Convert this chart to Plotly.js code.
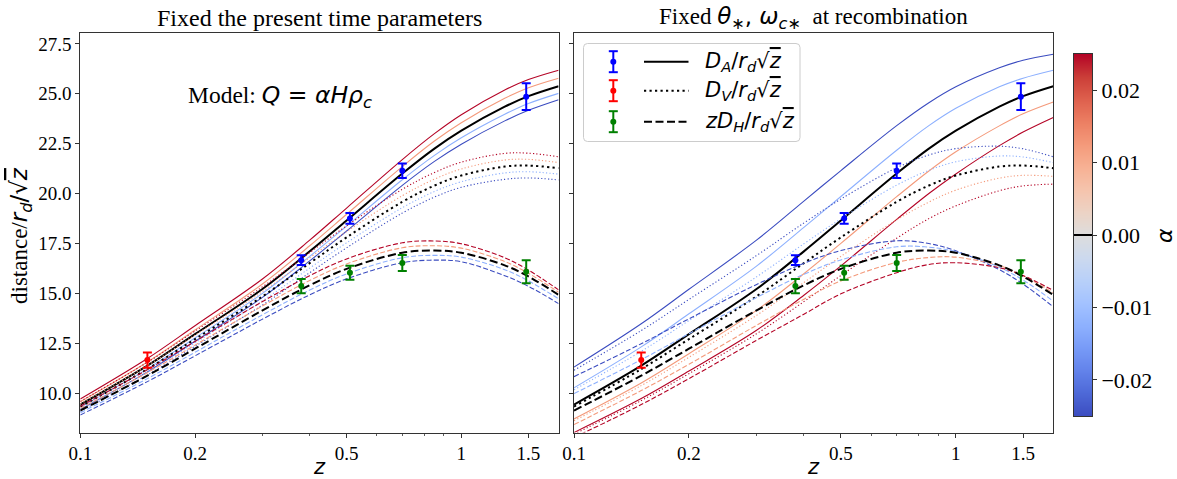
<!DOCTYPE html>
<html>
<head>
<meta charset="utf-8">
<script src="https://cdn.plot.ly/plotly-3.0.1.min.js"></script>
<style>html,body{margin:0;padding:0;background:#fff;}#chart{width:1177px;height:479px;}</style>
</head>
<body>
<div id="chart"></div>
<script>
// ---------------- data ----------------
const z = [0.1, 0.15, 0.2, 0.3, 0.4, 0.5, 0.7, 0.85, 1.0, 1.3, 1.5, 1.8];
const alphas = [-0.025, -0.0125, 0, 0.0125, 0.025];
const xTickVals = [0.1, 0.2, 0.5, 1, 1.5];
const xTickText = ['0.1', '0.2', '0.5', '1', '1.5'];
const xMinorVals = [0.3, 0.4, 0.6, 0.7, 0.8, 0.9];
const yTickVals = [10, 12.5, 15, 17.5, 20, 22.5, 25, 27.5];
const cbTickVals = [-0.02, -0.01, 0, 0.01, 0.02];

// Left panel: fixed present-time parameters (rows follow alphas order)
const presDA = [
  [9.18, 11.06, 12.59, 14.78, 16.62, 18.12, 20.41, 21.61, 22.47, 23.64, 24.17, 24.70],
  [9.29, 11.21, 12.76, 14.98, 16.85, 18.37, 20.69, 21.91, 22.79, 23.97, 24.51, 25.02],
  [9.42, 11.37, 12.95, 15.20, 17.10, 18.65, 21.00, 22.25, 23.15, 24.35, 24.88, 25.38],
  [9.56, 11.55, 13.16, 15.45, 17.38, 18.96, 21.35, 22.63, 23.55, 24.77, 25.30, 25.78],
  [9.70, 11.73, 13.37, 15.70, 17.66, 19.27, 21.70, 23.00, 23.95, 25.19, 25.71, 26.18]
];
const presDV = [
  [9.09, 10.90, 12.34, 14.40, 16.03, 17.28, 19.02, 19.82, 20.31, 20.71, 20.78, 20.68],
  [9.20, 11.04, 12.51, 14.61, 16.26, 17.53, 19.29, 20.10, 20.59, 21.03, 21.09, 20.97],
  [9.32, 11.20, 12.70, 14.83, 16.51, 17.80, 19.58, 20.40, 20.90, 21.35, 21.40, 21.27],
  [9.45, 11.37, 12.90, 15.07, 16.78, 18.09, 19.89, 20.72, 21.23, 21.68, 21.71, 21.55],
  [9.58, 11.54, 13.10, 15.31, 17.04, 18.38, 20.21, 21.05, 21.57, 22.01, 22.02, 21.84]
];
const presDH = [
  [8.90, 10.57, 11.86, 13.69, 14.92, 15.72, 16.53, 16.66, 16.58, 15.88, 15.35, 14.48],
  [9.01, 10.72, 12.04, 13.91, 15.16, 15.97, 16.78, 16.90, 16.81, 16.18, 15.62, 14.72],
  [9.12, 10.87, 12.22, 14.13, 15.40, 16.22, 17.03, 17.14, 17.03, 16.40, 15.84, 14.92],
  [9.23, 11.02, 12.40, 14.35, 15.64, 16.47, 17.28, 17.38, 17.26, 16.59, 16.00, 15.05],
  [9.34, 11.17, 12.58, 14.57, 15.88, 16.72, 17.53, 17.62, 17.48, 16.78, 16.16, 15.17]
];

// Right panel: fixed theta_*, omega_c* at recombination
const recDA = [
  [11.30, 13.47, 15.20, 17.65, 19.62, 21.15, 23.40, 24.55, 25.35, 26.30, 26.68, 26.98],
  [10.26, 12.31, 13.97, 16.35, 18.30, 19.85, 22.17, 23.40, 24.27, 25.35, 25.78, 26.18],
  [9.42, 11.37, 12.95, 15.20, 17.10, 18.65, 21.00, 22.25, 23.15, 24.35, 24.88, 25.38],
  [8.70, 10.50, 11.97, 14.13, 15.98, 17.50, 19.84, 21.13, 22.09, 23.39, 24.00, 24.59],
  [8.02, 9.72, 11.10, 13.13, 14.90, 16.37, 18.70, 20.00, 20.98, 22.40, 23.08, 23.81]
];
const recDV = [
  [11.14, 13.13, 14.69, 16.88, 18.52, 19.72, 21.29, 21.93, 22.25, 22.37, 22.24, 21.84],
  [10.16, 12.09, 13.63, 15.81, 17.48, 18.73, 20.42, 21.16, 21.59, 21.88, 21.83, 21.55],
  [9.32, 11.20, 12.70, 14.83, 16.51, 17.80, 19.58, 20.40, 20.90, 21.35, 21.40, 21.27],
  [8.61, 10.37, 11.79, 13.88, 15.54, 16.85, 18.68, 19.57, 20.17, 20.77, 20.91, 20.86],
  [7.94, 9.62, 10.97, 12.96, 14.58, 15.89, 17.76, 18.74, 19.38, 20.14, 20.38, 20.47]
];
const recDH = [
  [10.82, 12.47, 13.72, 15.43, 16.50, 17.14, 17.63, 17.49, 17.13, 16.18, 15.46, 14.32],
  [9.97, 11.67, 12.97, 14.78, 15.95, 16.67, 17.33, 17.31, 17.08, 16.30, 15.66, 14.60],
  [9.12, 10.87, 12.22, 14.13, 15.40, 16.22, 17.03, 17.14, 17.03, 16.40, 15.84, 14.92],
  [8.42, 10.12, 11.44, 13.38, 14.70, 15.62, 16.55, 16.79, 16.81, 16.38, 15.88, 15.02],
  [7.77, 9.42, 10.72, 12.63, 13.95, 14.97, 16.03, 16.44, 16.53, 16.28, 15.89, 15.14]
];

// Measurements
const zDA = [0.38, 0.51, 0.70, 1.48];
const valDA = [16.66, 18.75, 21.14, 24.85];
const errDA = [0.25, 0.27, 0.36, 0.67];
const zDV = [0.15];
const valDV = [11.65];
const errDV = [0.38];
const zDH = [0.38, 0.51, 0.70, 1.48];
const valDH = [15.36, 16.03, 16.52, 16.08];
const errDH = [0.36, 0.35, 0.40, 0.58];

// ---------------- styles ----------------
const W = 1177, H = 479;
const fx = p => p / W;
const fy = p => 1 - p / H;
const SERIF = 'Liberation Serif, Times New Roman, serif';
const SANS = 'DejaVu Sans, sans-serif';
const lineColors = ['#3b4cc0', '#8db0fe', '#000000', '#f49a7b', '#b40426'];
const coolwarm = [[0,'#3b4cc0'],[0.0625,'#4d68d7'],[0.125,'#6282ea'],[0.1875,'#779af7'],[0.25,'#8db0fe'],[0.3125,'#a3c2ff'],[0.375,'#b8d0f9'],[0.4375,'#ccd9ee'],[0.5,'#dddddd'],[0.5625,'#ecd3c5'],[0.625,'#f5c4ad'],[0.6875,'#f7b194'],[0.75,'#f49a7b'],[0.8125,'#ec7f63'],[0.875,'#de604d'],[0.9375,'#cb3e38'],[1,'#b40426']];
const thinDash = {solid: 'solid', dot: '1.2px,2.2px', dash: '5px,2.2px'};
const thickDash = {solid: 'solid', dot: '2.2px,3.3px', dash: '8px,3.5px'};

const traces = [];
function addGroup(xa, ya, rows, kind) {
  const order = [0, 1, 3, 4, 2];
  order.forEach(i => {
    const black = (i === 2);
    traces.push({
      x: z, y: rows[i], xaxis: xa, yaxis: ya, type: 'scatter', mode: 'lines',
      line: {color: lineColors[i], width: black ? 2 : 1.1, dash: black ? thickDash[kind] : thinDash[kind], shape: 'spline', smoothing: 1},
      hoverinfo: 'skip', showlegend: false, name: 'alpha=' + alphas[i]
    });
  });
}
[['x','y',presDA,presDV,presDH],['x2','y2',recDA,recDV,recDH]].forEach(p => {
  addGroup(p[0], p[1], p[2], 'solid');
  addGroup(p[0], p[1], p[3], 'dot');
  addGroup(p[0], p[1], p[4], 'dash');
  [[zDA, valDA, errDA, '#0000ff'], [zDV, valDV, errDV, '#ff0000'], [zDH, valDH, errDH, '#008000']].forEach(d => {
    traces.push({
      x: d[0], y: d[1], xaxis: p[0], yaxis: p[1], type: 'scatter', mode: 'markers',
      marker: {color: d[3], size: 6},
      error_y: {type: 'data', array: d[2], visible: true, color: d[3], thickness: 2, width: 4.5},
      hoverinfo: 'skip', showlegend: false
    });
  });
});

// colour bar drawn as a heatmap on its own axes
traces.push({
  type: 'heatmap', x: [0, 1], y: [alphas[0], alphas[4]],
  z: [[alphas[0], alphas[0]], [alphas[4], alphas[4]]],
  zmin: alphas[0], zmax: alphas[4], colorscale: coolwarm, zsmooth: 'best',
  showscale: false, xaxis: 'x3', yaxis: 'y3', hoverinfo: 'skip'
});

const axBase = {
  showgrid: false, zeroline: false, showline: true, linecolor: '#333', linewidth: 1, mirror: true,
  ticks: 'outside', ticklen: 4, tickwidth: 1, tickcolor: '#333',
  tickfont: {family: SERIF, size: 19, color: '#000'}
};
const xRange = [-1, Math.log10(1.8)];
const yRange = [8.02, 28.03];
const yDom = [fy(432.5), fy(33.3)];
function xAxis(dom, anchor) {
  return Object.assign({}, axBase, {
    domain: dom, anchor: anchor, type: 'log', range: xRange,
    tickmode: 'array', tickvals: xTickVals, ticktext: xTickText,
    minor: {tickmode: 'array', tickvals: xMinorVals, ticks: 'outside', ticklen: 2.5, tickwidth: 0.8, tickcolor: '#333', showgrid: false}
  });
}
function yAxis(anchor, labels) {
  return Object.assign({}, axBase, {
    domain: yDom, anchor: anchor, range: yRange,
    tickmode: 'array', tickvals: yTickVals, tickformat: '.1f', showticklabels: labels
  });
}

const shapes = [];
const annotations = [];
// zero line on colour bar
shapes.push({type: 'line', xref: 'x3', yref: 'y3', x0: 0, x1: 1, y0: alphas[2], y1: alphas[2], line: {color: '#000', width: 2}, layer: 'above'});

// legend box (rounded)
(function() {
  const x0 = 583.5, x1 = 800, y0 = 43.5, y1 = 141.5, r = 4;
  const P = (x, y) => fx(x) + ',' + fy(y);
  const path = 'M' + P(x0 + r, y0) + ' L' + P(x1 - r, y0) + ' Q' + P(x1, y0) + ' ' + P(x1, y0 + r) +
    ' L' + P(x1, y1 - r) + ' Q' + P(x1, y1) + ' ' + P(x1 - r, y1) +
    ' L' + P(x0 + r, y1) + ' Q' + P(x0, y1) + ' ' + P(x0, y1 - r) +
    ' L' + P(x0, y0 + r) + ' Q' + P(x0, y0) + ' ' + P(x0 + r, y0) + ' Z';
  shapes.push({type: 'path', xref: 'paper', yref: 'paper', path: path, fillcolor: 'rgba(255,255,255,0.85)', line: {color: '#cccccc', width: 1}, layer: 'above'});
})();
const sqz = '√<span style="text-decoration:overline"><i>z</i></span>';
const legRows = [
  {py: 61.7, col: '#0000ff', dash: 'solid', text: '<i>D</i><sub><i>A</i></sub>/<i>r</i><sub><i>d</i></sub>' + sqz},
  {py: 90.7, col: '#ff0000', dash: '2.2px,3.3px', text: '<i>D</i><sub><i>V</i></sub>/<i>r</i><sub><i>d</i></sub>' + sqz},
  {py: 121.7, col: '#008000', dash: '8px,3.5px', text: '<i>zD</i><sub><i>H</i></sub>/<i>r</i><sub><i>d</i></sub>' + sqz}
];
legRows.forEach(r => {
  const ex = 613.3;
  shapes.push({type: 'line', xref: 'paper', yref: 'paper', x0: fx(ex), x1: fx(ex), y0: fy(r.py - 10.5), y1: fy(r.py + 10.5), line: {color: r.col, width: 2}, layer: 'above'});
  shapes.push({type: 'line', xref: 'paper', yref: 'paper', x0: fx(ex - 4.5), x1: fx(ex + 4.5), y0: fy(r.py - 10.5), y1: fy(r.py - 10.5), line: {color: r.col, width: 2}, layer: 'above'});
  shapes.push({type: 'line', xref: 'paper', yref: 'paper', x0: fx(ex - 4.5), x1: fx(ex + 4.5), y0: fy(r.py + 10.5), y1: fy(r.py + 10.5), line: {color: r.col, width: 2}, layer: 'above'});
  shapes.push({type: 'circle', xref: 'paper', yref: 'paper', x0: fx(ex - 3), x1: fx(ex + 3), y0: fy(r.py - 3), y1: fy(r.py + 3), fillcolor: r.col, line: {color: r.col, width: 0}, layer: 'above'});
  shapes.push({type: 'line', xref: 'paper', yref: 'paper', x0: fx(644), x1: fx(688.5), y0: fy(r.py), y1: fy(r.py), line: {color: '#000', width: 2, dash: r.dash}, layer: 'above'});
  annotations.push({xref: 'paper', yref: 'paper', x: fx(703), y: fy(r.py), xanchor: 'left', yanchor: 'middle', showarrow: false, text: r.text, font: {family: SANS, size: 21, color: '#000'}});
});

annotations.push(
  {xref: 'paper', yref: 'paper', x: fx(319.5), y: fy(18), xanchor: 'center', yanchor: 'middle', showarrow: false,
   text: 'Fixed the present time parameters', font: {family: SERIF, size: 24, color: '#000'}},
  {xref: 'paper', yref: 'paper', x: fx(813.6), y: fy(18), xanchor: 'center', yanchor: 'middle', showarrow: false,
   text: 'Fixed <span style="font-family:DejaVu Sans"><i>θ</i><sub>∗</sub>, <i>ω</i><sub><i>c</i>∗</sub></span>  at recombination', font: {family: SERIF, size: 23, color: '#000'}},
  {xref: 'paper', yref: 'paper', x: fx(186), y: fy(97), xanchor: 'left', yanchor: 'middle', showarrow: false,
   text: 'Model: <span style="font-family:DejaVu Sans"><i>Q</i> = <i>αHρ</i><sub><i>c</i></sub></span>', font: {family: SERIF, size: 23.5, color: '#000'}},
  {xref: 'paper', yref: 'paper', x: fx(319.5), y: fy(467), xanchor: 'center', yanchor: 'middle', showarrow: false,
   text: '<i>z</i>', font: {family: SANS, size: 21, color: '#000'}},
  {xref: 'paper', yref: 'paper', x: fx(813.6), y: fy(467), xanchor: 'center', yanchor: 'middle', showarrow: false,
   text: '<i>z</i>', font: {family: SANS, size: 21, color: '#000'}},
  {xref: 'paper', yref: 'paper', x: fx(21), y: fy(236), xanchor: 'center', yanchor: 'middle', showarrow: false, textangle: -90,
   text: 'distance/<span style="font-family:DejaVu Sans"><i>r</i><sub><i>d</i></sub>/' + sqz + '</span>', font: {family: SERIF, size: 23, color: '#000'}},
  {xref: 'paper', yref: 'paper', x: fx(1164), y: fy(236), xanchor: 'center', yanchor: 'middle', showarrow: false, textangle: -90,
   text: '<i>α</i>', font: {family: SANS, size: 22, color: '#000'}}
);

const layout = {
  width: W, height: H, margin: {l: 0, r: 0, t: 0, b: 0},
  paper_bgcolor: '#fff', plot_bgcolor: '#fff', showlegend: false,
  xaxis: xAxis([fx(80.3), fx(558.6)], 'y'),
  yaxis: yAxis('x', true),
  xaxis2: xAxis([fx(574), fx(1053.3)], 'y2'),
  yaxis2: yAxis('x2', false),
  xaxis3: {domain: [fx(1074), fx(1092)], anchor: 'y3', range: [0, 1], showgrid: false, zeroline: false,
           showticklabels: false, ticks: '', showline: true, mirror: true, linecolor: '#333', linewidth: 1},
  yaxis3: Object.assign({}, axBase, {domain: [fy(416), fy(54)], anchor: 'x3', side: 'right', range: [alphas[0], alphas[4]],
           tickmode: 'array', tickvals: cbTickVals, tickformat: '.2f',
           tickfont: {family: SERIF, size: 22, color: '#000'}}),
  shapes: shapes, annotations: annotations
};

Plotly.newPlot('chart', traces, layout, {staticPlot: true, displayModeBar: false});
</script>
</body>
</html>
